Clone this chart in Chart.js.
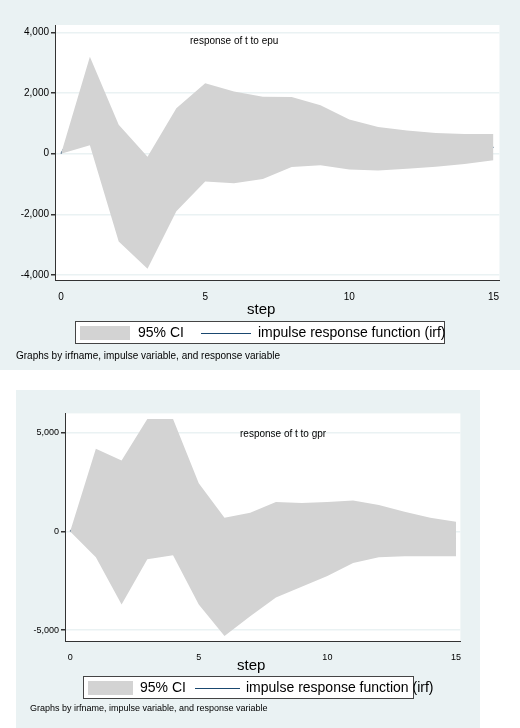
<!DOCTYPE html>
<html>
<head>
<meta charset="utf-8">
<script src="https://cdn.jsdelivr.net/npm/chart.js@4"></script>
<style>
  body { margin: 0; width: 520px; height: 728px; background: #fff; position: relative; font-family: "Liberation Sans", Arial, sans-serif; overflow: hidden; }
  .panel { position: absolute; background: #eaf2f3; }
  .box { position: absolute; }
  .txt { position: absolute; color: #000; white-space: nowrap; }
  .legend { position: absolute; background: #fff; border: 1px solid #444; box-sizing: border-box; }
  .swatch { position: absolute; background: #d3d3d3; }
  .lline { position: absolute; height: 1.3px; background: #1a476f; }
</style>
</head>
<body>
<div class="panel" style="left:0;top:0;width:520px;height:370px"></div>
<div class="panel" style="left:16px;top:390px;width:464px;height:338px"></div>

<div class="box" style="left:0;top:17px;width:502px;height:293px"><canvas id="c1"></canvas></div>
<div class="box" style="left:16px;top:406px;width:448px;height:265px"><canvas id="c2"></canvas></div>

<div class="txt" style="left:190px;top:35px;font-size:10px">response of t to epu</div>
<div class="txt" style="left:240px;top:428px;font-size:10px">response of t to gpr</div>

<div class="txt" style="left:247px;top:300px;font-size:15px">step</div>
<div class="txt" style="left:237px;top:656px;font-size:15px">step</div>

<div class="legend" style="left:75px;top:321px;width:370px;height:23px">
  <div class="swatch" style="left:4px;top:4px;width:50px;height:14px"></div>
  <div class="txt" style="left:62px;top:2px;font-size:14px">95% CI</div>
  <div class="lline" style="left:125px;top:11px;width:50px"></div>
  <div class="txt" style="left:182px;top:2px;font-size:14px">impulse response function (irf)</div>
</div>
<div class="legend" style="left:83px;top:676px;width:331px;height:23px">
  <div class="swatch" style="left:4px;top:4px;width:45px;height:14px"></div>
  <div class="txt" style="left:56px;top:2px;font-size:14px">95% CI</div>
  <div class="lline" style="left:111px;top:11px;width:45px"></div>
  <div class="txt" style="left:162px;top:2px;font-size:14px">impulse response function (irf)</div>
</div>

<div class="txt" style="left:16px;top:350px;font-size:10px">Graphs by irfname, impulse variable, and response variable</div>
<div class="txt" style="left:30px;top:703px;font-size:9px">Graphs by irfname, impulse variable, and response variable</div>

<script>
// step axis
const steps = [0, 1, 2, 3, 4, 5, 6, 7, 8, 9, 10, 11, 12, 13, 14, 15];
const stepTicks = [0, 5, 10, 15];

// response of t to epu
const epuIrf = [0, 1700, -1000, -1950, -200, 700, 520, 510, 700, 600, 320, 160, 120, 110, 140, 210];
const epuUpper = [0, 3200, 950, -100, 1500, 2320, 2050, 1880, 1870, 1600, 1130, 880, 760, 680, 650, 650];
const epuLower = [0, 280, -2900, -3800, -1900, -920, -980, -840, -440, -380, -520, -560, -500, -430, -340, -220];
const epuTicks = [-4000, -2000, 0, 2000, 4000];

// response of t to gpr
const gprIrf = [0, 1450, -50, 2150, 2220, -650, -2300, -1700, -950, -700, -350, -50, 50, -100, -250, -350];
const gprUpper = [0, 4200, 3600, 5700, 5700, 2450, 700, 950, 1500, 1450, 1500, 1580, 1350, 1000, 700, 500];
const gprLower = [0, -1300, -3700, -1400, -1200, -3700, -5300, -4300, -3350, -2800, -2250, -1600, -1300, -1250, -1250, -1250];
const gprTicks = [-5000, 0, 5000];

const whitePlot = {
  id: "whitePlot",
  beforeDraw: (chart) => {
    const { ctx, chartArea: a } = chart;
    ctx.save();
    ctx.fillStyle = "#fff";
    ctx.fillRect(a.left, a.top, a.right - a.left, a.bottom - a.top);
    ctx.restore();
  },
};

const pts = (vals) => vals.map((v, i) => ({ x: steps[i], y: v }));
const fmt = (v) => Number(v).toLocaleString("en-US");

const makeChart = (id, irf, upper, lower, yTicks, yRange, xRange, yWidth, tickFont) => {
  new Chart(document.getElementById(id), {
    type: "line",
    data: {
      datasets: [
        { data: pts(upper), borderWidth: 0, pointRadius: 0, backgroundColor: "#d3d3d3", fill: "+1", tension: 0 },
        { data: pts(lower), borderWidth: 0, pointRadius: 0, fill: false, tension: 0 },
        { data: pts(irf), borderColor: "#1a476f", borderWidth: 1.3, pointRadius: 0, fill: false, tension: 0 },
      ],
    },
    options: {
      responsive: true,
      maintainAspectRatio: false,
      animation: false,
      layout: { padding: 0 },
      plugins: { legend: { display: false }, tooltip: { enabled: false } },
      scales: {
        x: {
          type: "linear",
          min: xRange[0],
          max: xRange[1],
          afterBuildTicks: (s) => { s.ticks = stepTicks.map((v) => ({ value: v })); },
          afterFit: (s) => { s.height = 30; },
          grid: { display: false, drawTicks: true },
          border: { color: "#333", width: 1 },
          ticks: { color: "#000", font: { size: tickFont, family: "Liberation Sans" }, maxRotation: 0 },
        },
        y: {
          min: yRange[0],
          max: yRange[1],
          afterBuildTicks: (s) => { s.ticks = yTicks.map((v) => ({ value: v })); },
          afterFit: (s) => { s.width = yWidth; },
          grid: { color: "#eaf2f3", lineWidth: 1.5, tickColor: "#333", tickLength: 4 },
          border: { color: "#333", width: 1 },
          ticks: { color: "#000", font: { size: tickFont, family: "Liberation Sans" }, padding: 2, callback: fmt },
        },
      },
    },
    plugins: [whitePlot],
  });
};

makeChart("c1", epuIrf, epuUpper, epuLower, epuTicks, [-4170, 4246], [-0.21, 15.21], 55, 10);
makeChart("c2", gprIrf, gprUpper, gprLower, gprTicks, [-5550, 5990], [-0.2, 15.17], 49, 9);
</script>
</body>
</html>
